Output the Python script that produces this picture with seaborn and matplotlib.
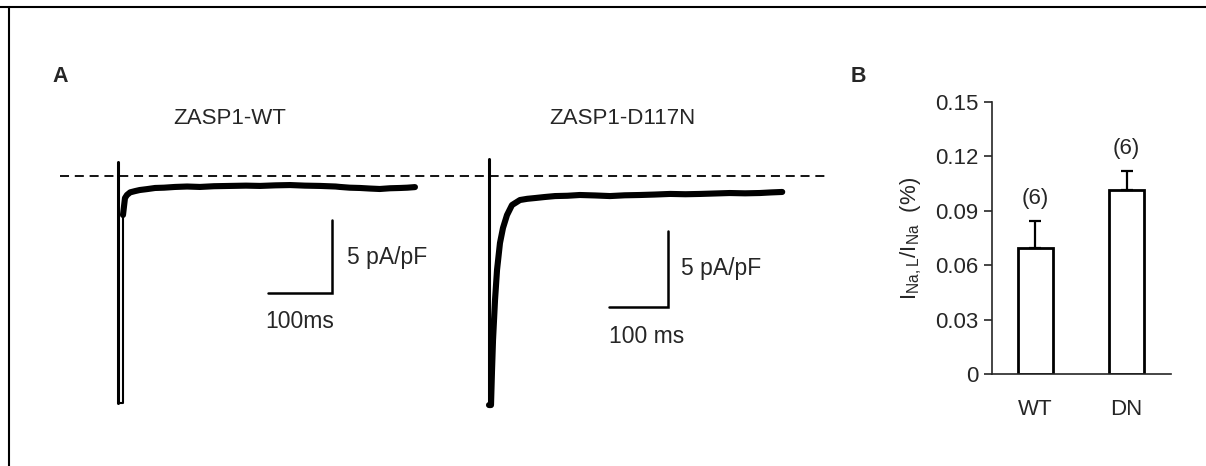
import matplotlib
matplotlib.use("Agg")
import matplotlib.pyplot as plt
from matplotlib.lines import Line2D
import numpy as np
import seaborn as sns

# --------------------
# data
# --------------------
# panel A: current traces (time in ms, current in pA/pF, 0 = baseline)
wt_time = [0, 0, 7.8, 7.8, 10.9, 14, 19, 27, 34, 45, 58, 72, 89, 108, 128, 150,
           175, 200, 222, 246, 269, 292, 316, 340, 347, 362, 378, 394, 409, 425, 441, 452, 464]
wt_curr = [0.96, -15.55, -15.55, -2.67, -1.51, -1.30, -1.12, -1.03, -0.96, -0.90, -0.82,
           -0.80, -0.75, -0.72, -0.75, -0.70, -0.68, -0.66, -0.68, -0.64, -0.62, -0.66,
           -0.68, -0.72, -0.75, -0.80, -0.82, -0.86, -0.89, -0.84, -0.82, -0.80, -0.76]
wt_thin = 4   # points drawn as the fast thin spike

dn_time = [0, 0, 3.4, 5.1, 6.8, 10.2, 13.6, 18.6, 23.7, 30.5, 39, 52.5, 65, 78, 95, 112,
           133, 154, 180, 205, 230, 256, 281, 307, 333, 358, 383, 408, 434, 459, 478, 497]
dn_curr = [1.12, -15.07, -15.07, -12.8, -10.8, -8.16, -6.18, -4.41, -3.42, -2.57, -1.91,
           -1.58, -1.50, -1.45, -1.38, -1.32, -1.30, -1.25, -1.28, -1.32, -1.27, -1.25,
           -1.22, -1.18, -1.20, -1.18, -1.15, -1.12, -1.14, -1.12, -1.08, -1.05]
dn_thin = 2

# panel B: late / peak sodium current ratio
groups = ["WT", "DN"]
ratio_mean = [0.0695, 0.1015]
ratio_sem = [0.0149, 0.0105]
n_cells = ["(6)", "(6)"]
yticks = [0, 0.03, 0.06, 0.09, 0.12, 0.15]
ytick_labels = ["0", "0.03", "0.06", "0.09", "0.12", "0.15"]

# --------------------
# style
# --------------------
sns.set_style("ticks")
plt.rcParams["font.family"] = ["Liberation Sans", "DejaVu Sans"]
plt.rcParams["mathtext.fontset"] = "custom"
plt.rcParams["mathtext.rm"] = "Liberation Sans"
plt.rcParams["mathtext.it"] = "Liberation Sans"

W, H = 1206, 466
fig = plt.figure(figsize=(W / 100, H / 100), dpi=100)


def px_rect(x0, y0, x1, y1):
    return [x0 / W, 1 - y1 / H, (x1 - x0) / W, (y1 - y0) / H]


def px_text(x, y, s, **kw):
    fig.text(x / W, 1 - y / H, s, **kw)


# frame around the figure (top and left only)
fig.add_artist(Line2D([0, 1], [1 - 7 / H, 1 - 7 / H], color="black", lw=1.5))
fig.add_artist(Line2D([9 / W, 9 / W], [0, 1 - 7 / H], color="black", lw=1.5))

px_text(60, 76, "A", fontsize=15.5, fontweight="bold", ha="center", va="center")
px_text(858, 76, "B", fontsize=15.5, fontweight="bold", ha="center", va="center")


# --------------------
# panel A traces
# --------------------
def draw_trace(rect, xlim, ylim, t, i, n_thin, title, title_x, bar_t, bar_i,
               ms_label, ms_pos, pa_pos, dash_span):
    ax = fig.add_axes(rect)
    ax.set_xlim(*xlim)
    ax.set_ylim(*ylim)
    ax.axis("off")
    ax.axhline(0, xmin=dash_span[0], xmax=dash_span[1], color="black", lw=1.3,
               dashes=(5, 3.2))
    # downstroke a bit heavier than the fast return
    sns.lineplot(x=t[:2], y=i[:2], sort=False, estimator=None,
                 color="black", lw=2.2, ax=ax)
    sns.lineplot(x=t[1:n_thin], y=i[1:n_thin], sort=False, estimator=None,
                 color="black", lw=1.5, ax=ax)
    sns.lineplot(x=t[n_thin - 1:], y=i[n_thin - 1:], sort=False, estimator=None,
                 color="black", lw=4.4, ax=ax)
    # scale bars: 100 ms, 5 pA/pF
    ax.plot([bar_t, bar_t + 100, bar_t + 100], [bar_i, bar_i, bar_i + 5],
            color="black", lw=1.8, solid_joinstyle="miter")
    ax.text(pa_pos[0], pa_pos[1], "5 pA/pF", fontsize=16.5, ha="left", va="center")
    ax.text(ms_pos[0], ms_pos[1], ms_label, fontsize=16.5, ha="left", va="center")
    px_text(title_x, 119, title, fontsize=16, ha="center", va="center")
    return ax


# WT: spike at x=118 px, 0.64 px/ms, 14.6 px per pA/pF, baseline at y=176 px
draw_trace(px_rect(55, 150, 460, 410),
           ((55 - 118) / 0.64, (460 - 118) / 0.64),
           ((176 - 410) / 14.6, (176 - 150) / 14.6),
           wt_time, wt_curr, wt_thin, "ZASP1-WT", 230,
           234, -8.01, "100ms", (230, -10.0), (358, -5.55), (0.012, 1.0))

# D117N: spike at x=489 px, 0.59 px/ms, 15.2 px per pA/pF
draw_trace(px_rect(460, 150, 835, 410),
           ((460 - 489) / 0.59, (835 - 489) / 0.59),
           ((176 - 410) / 15.2, (176 - 150) / 15.2),
           dn_time, dn_curr, dn_thin, "ZASP1-D117N", 622,
           203, -8.62, "100 ms", (203, -10.53), (325, -6.1), (0.0, 0.981))

# --------------------
# panel B bars
# --------------------
axb = fig.add_axes(px_rect(992, 102, 1171, 374))
sns.barplot(x=groups, y=ratio_mean, color="white", edgecolor="black", linewidth=2.0,
            width=0.385, errorbar=None, saturation=1, ax=axb)
axb.errorbar(x=[0, 1], y=ratio_mean, yerr=[[0, 0], ratio_sem], fmt="none",
             ecolor="black", elinewidth=1.6, capsize=4.5, capthick=1.6, zorder=1)
for k, lab in enumerate(n_cells):
    axb.annotate(lab, (k, ratio_mean[k] + ratio_sem[k]), xytext=(0, 16),
                 textcoords="offset points", ha="center", va="center", fontsize=16)

axb.set_xlim(-0.478, 1.489)
axb.set_ylim(0, 0.15)
axb.set_yticks(yticks)
axb.set_yticklabels(ytick_labels)
axb.tick_params(axis="y", length=6, width=1.2, pad=4, labelsize=16)
axb.tick_params(axis="x", length=0, pad=18, labelsize=16)
for side in ["top", "right"]:
    axb.spines[side].set_visible(False)
axb.spines["left"].set_linewidth(1.2)
axb.spines["bottom"].set_linewidth(1.2)
axb.set_ylabel(r"$\mathregular{I_{Na,L}/I_{Na}}$  (%)", fontsize=16, labelpad=8)

fig.savefig("out.png", dpi=100)
